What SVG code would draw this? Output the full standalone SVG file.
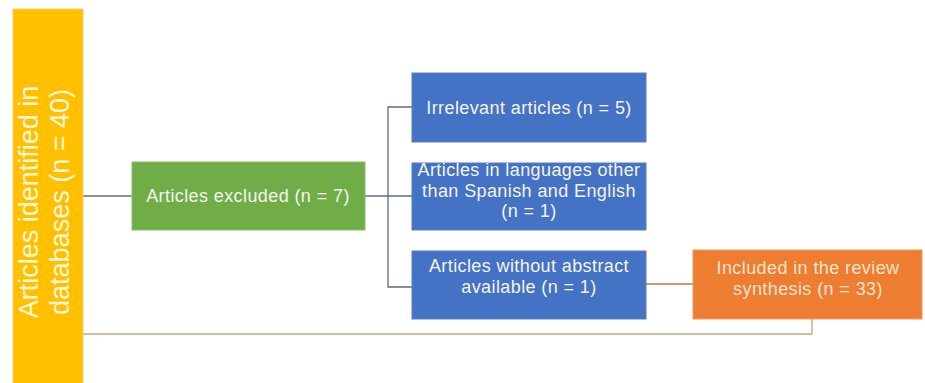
<svg xmlns="http://www.w3.org/2000/svg" width="925" height="383" viewBox="0 0 925 383">
<style>
.t{font-family:"Liberation Sans",Arial,sans-serif;font-size:18px;letter-spacing:0.4px;fill:#F4F4F0;text-anchor:middle}
.v{font-size:27px;letter-spacing:0;fill:#FFF6D8}
.c{fill:none;stroke-width:1.3}
</style>
<rect width="925" height="383" fill="#FFFFFF"/>
<g id="connectors">
<line class="c" x1="83" y1="196" x2="132" y2="196" stroke="#6E6E6E"/>
<line class="c" x1="365" y1="196" x2="412" y2="196" stroke="#5A6B88"/>
<polyline class="c" points="412,107 388,107 388,287 412,287" stroke="#5A6B88"/>
<line class="c" x1="646" y1="284" x2="693" y2="284" stroke="#B07A50"/>
<polyline class="c" points="812,319 812,334 83,334" stroke="#C8A47A"/>
</g>
<g id="identified">
<rect x="13" y="9" width="70" height="376" fill="#FFC000" stroke="#F5D060" stroke-width="1"/>
<text class="t v" transform="translate(38,202) rotate(-90)">Articles identified in</text>
<text class="t v" transform="translate(69,202) rotate(-90)">databases (n = 40)</text>
</g>
<g id="excluded">
<rect x="132" y="162" width="233" height="68" fill="#70AD47" stroke="#8CBF6A" stroke-width="1"/>
<text class="t" x="248" y="202">Articles excluded  (n = 7)</text>
</g>
<g id="irrelevant">
<rect x="412" y="73" width="234" height="69" fill="#4472C4" stroke="#5A7FBF" stroke-width="1"/>
<text class="t" x="529" y="114">Irrelevant articles (n = 5)</text>
</g>
<g id="languages">
<rect x="412" y="163" width="234" height="67" fill="#4472C4" stroke="#5A7FBF" stroke-width="1"/>
<text class="t" x="529" y="176">Articles in languages  other</text>
<text class="t" x="529" y="196.5">than Spanish and English</text>
<text class="t" x="529" y="217">(n = 1)</text>
</g>
<g id="abstract">
<rect x="412" y="251" width="234" height="68" fill="#4472C4" stroke="#5A7FBF" stroke-width="1"/>
<text class="t" x="529" y="272">Articles without abstract</text>
<text class="t" x="529" y="292.5">available (n = 1)</text>
</g>
<g id="included">
<rect x="693" y="250" width="229" height="69" fill="#ED7D31" stroke="#F09A5E" stroke-width="1"/>
<text class="t" style="fill:#FBE3CF" x="808" y="274">Included  in the review</text>
<text class="t" style="fill:#FBE3CF" x="808" y="294.5">synthesis (n = 33)</text>
</g>
</svg>
